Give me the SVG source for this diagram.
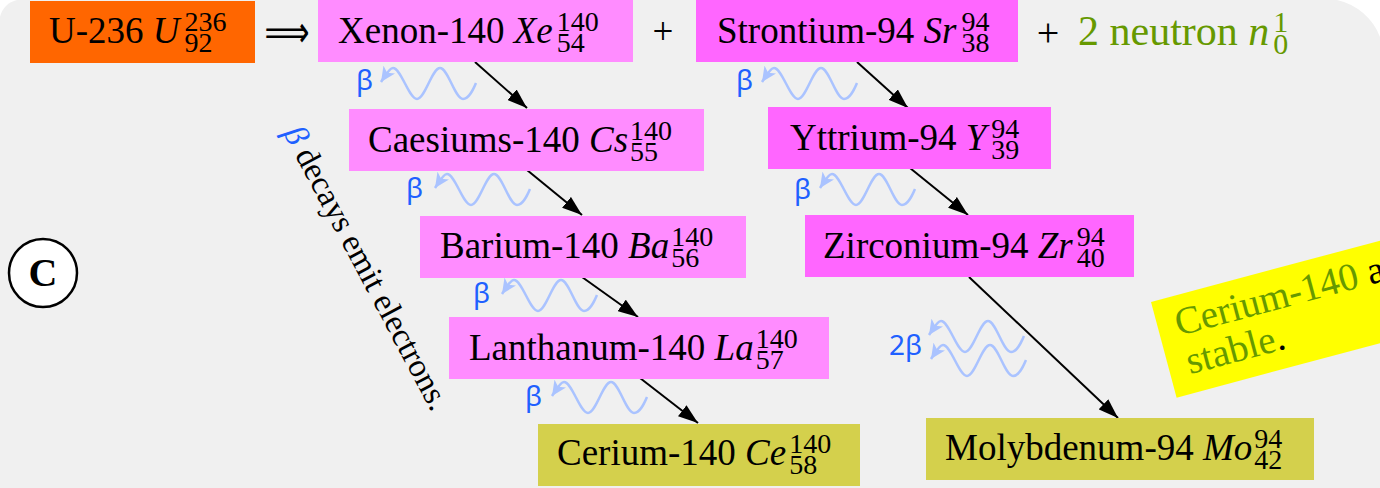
<svg xmlns="http://www.w3.org/2000/svg" width="1380" height="488" viewBox="0 0 1380 488">
<style>
.bg{fill:#f0f0f0}
.t{font-family:"Liberation Serif","Times New Roman",serif;font-size:37px;fill:#000}
.m{font-style:italic}
.s{font-size:28px}
.conn{stroke:#000;stroke-width:2;fill:none;marker-end:url(#ah)}
.wave{fill:none;stroke:#aac3ff;stroke-width:2.5;marker-start:url(#wh)}
.beta{font-family:"Noto Sans",sans-serif;font-size:28px;fill:#2060ff}
.light{fill:#ff8cff}
.mag{fill:#ff66ff}
.olive{fill:#d4d04c}
.green{fill:#669900}
</style>
<defs>
<marker id="ah" markerUnits="userSpaceOnUse" markerWidth="20" markerHeight="14" refX="20" refY="7" orient="auto">
<path d="M0,0 L20,7 L0,14 Z" fill="#000"/>
</marker>
<marker id="wh" markerUnits="userSpaceOnUse" markerWidth="15" markerHeight="14" refX="15" refY="7" orient="auto-start-reverse">
<path d="M0,0 L15,7 L0,14 L4,7 Z" fill="#aac3ff"/>
</marker>
<path id="wave" class="wave" d="M0,0 C4,-6 8,-14 12,-14 C20,-14 28,17 36,17 C44,17 51,-14 59,-14 C67,-14 74,17 82,17 C88,17 92,8 95,1"/>
</defs>

<path class="bg" d="M0,17 A22,22 0 0 1 17,0 L1337,0 A60,60 0 0 1 1380,37 L1380,488 L0,488 Z"/>

<g id="connectors">
<line class="conn" x1="475" y1="62" x2="527" y2="108"/>
<line class="conn" x1="857" y1="62" x2="908" y2="108"/>
<line class="conn" x1="527" y1="170" x2="582" y2="215"/>
<line class="conn" x1="910" y1="168" x2="968" y2="215"/>
<line class="conn" x1="582" y1="277" x2="638" y2="317"/>
<line class="conn" x1="969" y1="277" x2="1118" y2="418"/>
<line class="conn" x1="640" y1="378" x2="698" y2="423"/>
</g>

<g id="beta-emissions">
<use href="#wave" x="381" y="82"/><text class="beta" x="356" y="90">β</text>
<use href="#wave" x="762" y="82"/><text class="beta" x="736" y="90">β</text>
<use href="#wave" x="435" y="188"/><text class="beta" x="406" y="198">β</text>
<use href="#wave" x="820" y="188"/><text class="beta" x="794" y="199">β</text>
<use href="#wave" x="502" y="294"/><text class="beta" x="473" y="303">β</text>
<use href="#wave" x="552" y="396"/><text class="beta" x="525" y="406">β</text>
<use href="#wave" x="929" y="335"/><use href="#wave" x="931" y="359"/><text class="beta" x="889" y="355">2β</text>
</g>

<g id="u236">
<rect x="30" y="1" width="225" height="62" fill="#ff6600"/>
<text class="t" x="49" y="43">U-236 <tspan class="m">U</tspan><tspan class="s" dx="5" dy="-12">236</tspan><tspan class="s" dx="-42" dy="21">92</tspan></text>
</g>
<text x="287" y="47" text-anchor="middle" textLength="45" lengthAdjust="spacingAndGlyphs" style="font-family:'DejaVu Sans',sans-serif;font-size:44px;fill:#000">⟹</text>

<g id="xenon">
<rect class="light" x="318" y="-2" width="315" height="64"/>
<text class="t" x="338" y="43">Xenon-140 <tspan class="m">Xe</tspan><tspan class="s" dx="4" dy="-12">140</tspan><tspan class="s" dx="-42" dy="21">54</tspan></text>
</g>
<text class="t" x="663" y="44" text-anchor="middle">+</text>

<g id="strontium">
<rect class="mag" x="696" y="-2" width="322" height="64"/>
<text class="t" x="717" y="43">Strontium-94 <tspan class="m">Sr</tspan><tspan class="s" dx="5" dy="-12">94</tspan><tspan class="s" dx="-28" dy="21">38</tspan></text>
</g>
<text class="t" x="1048" y="46" text-anchor="middle" style="font-size:40px">+</text>

<g id="neutron">
<text class="t green" x="1078" y="45" style="font-size:42px">2 neutron <tspan class="m">n</tspan><tspan dx="4" dy="-13" style="font-size:30px">1</tspan><tspan dx="-15" dy="22" style="font-size:30px">0</tspan></text>
</g>

<g id="caesium">
<rect class="light" x="349" y="109" width="355" height="62"/>
<text class="t" x="368" y="152">Caesiums-140 <tspan class="m">Cs</tspan><tspan class="s" dx="2" dy="-12">140</tspan><tspan class="s" dx="-42" dy="21">55</tspan></text>
</g>

<g id="yttrium">
<rect class="mag" x="768" y="107" width="283" height="62"/>
<text class="t" x="790" y="150">Yttrium-94 <tspan class="m">Y</tspan><tspan class="s" dx="5" dy="-12">94</tspan><tspan class="s" dx="-28" dy="21">39</tspan></text>
</g>

<g id="barium">
<rect class="light" x="420" y="216" width="326" height="62"/>
<text class="t" x="440" y="258">Barium-140 <tspan class="m">Ba</tspan><tspan class="s" dx="2" dy="-12">140</tspan><tspan class="s" dx="-42" dy="21">56</tspan></text>
</g>

<g id="zirconium">
<rect class="mag" x="805" y="215" width="329" height="62"/>
<text class="t" x="823" y="258">Zirconium-94 <tspan class="m">Zr</tspan><tspan class="s" dx="4" dy="-12">94</tspan><tspan class="s" dx="-28" dy="21">40</tspan></text>
</g>

<g id="lanthanum">
<rect class="light" x="449" y="317" width="380" height="62"/>
<text class="t" x="469" y="360">Lanthanum-140 <tspan class="m">La</tspan><tspan class="s" dx="2" dy="-12">140</tspan><tspan class="s" dx="-42" dy="21">57</tspan></text>
</g>

<g id="cerium">
<rect class="olive" x="538" y="424" width="322" height="62"/>
<text class="t" x="557" y="465">Cerium-140 <tspan class="m">Ce</tspan><tspan class="s" dx="3" dy="-12">140</tspan><tspan class="s" dx="-42" dy="21">58</tspan></text>
</g>

<g id="molybdenum">
<rect class="olive" x="926" y="418" width="388" height="62"/>
<text class="t" x="945" y="460">Molybdenum-94 <tspan class="m">Mo</tspan><tspan class="s" dx="2" dy="-12">94</tspan><tspan class="s" dx="-28" dy="21">42</tspan></text>
</g>

<g id="label-c">
<circle cx="43" cy="273" r="34" fill="#fff" stroke="#000" stroke-width="2.5"/>
<text class="t" x="43" y="286" text-anchor="middle" style="font-size:40px;font-weight:bold">C</text>
</g>

<g id="note-beta">
<text class="t" transform="translate(283,133) rotate(62)" style="font-size:33px"><tspan class="m" fill="#2060ff">β</tspan> decays emit electrons.</text>
</g>

<g id="note-stable" transform="translate(1151,302) rotate(-15)">
<rect x="0" y="0" width="320" height="99" fill="#ffff00"/>
<text class="t" x="18" y="40" style="font-size:39px"><tspan class="green">Cerium-140</tspan> are</text>
<text class="t" x="19" y="80" style="font-size:39px"><tspan class="green">stable</tspan>.</text>
</g>
</svg>
